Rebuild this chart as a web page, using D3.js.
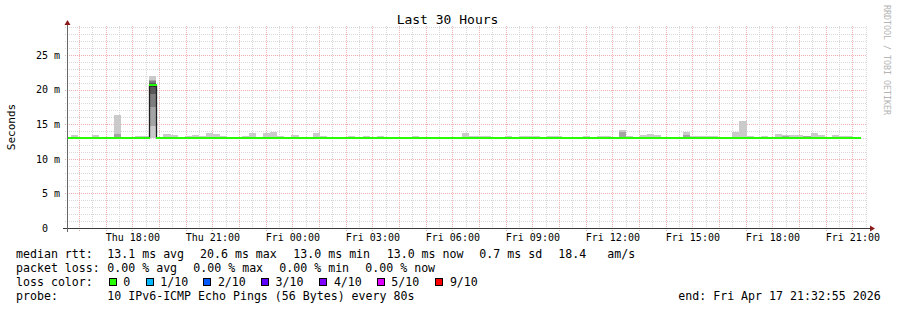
<!DOCTYPE html>
<html>
<head>
<meta charset="utf-8">
<script src="https://cdn.jsdelivr.net/npm/d3@7/dist/d3.min.js"></script>
<style>
  body { margin: 0; background: #fff; }
  svg { display: block; font-family: "DejaVu Sans Mono", monospace; }
</style>
</head>
<body>
<div id="chart"></div>
<script>
var graphStart = new Date(2026, 3, 16, 15, 32, 55),
    graphEnd = new Date(2026, 3, 17, 21, 32, 55),
    firstStep = new Date(2026, 3, 16, 15, 26, 0),  // first rrd step, partly left of the graph
    stepSeconds = 960;

// median rtt (ms), one value per 16 min step
var medianRtt = [
  13.0, 13.0, 13.0, 13.0, 13.0, 13.0, 13.0, 13.0, 13.0, 13.0, 13.0, 13.0, 20.6, 13.0, 13.0, 13.0,
  13.0, 13.0, 13.0, 13.0, 13.0, 13.0, 13.0, 13.0, 13.0, 13.0, 13.0, 13.0, 13.0, 13.0, 13.0, 13.0,
  13.0, 13.0, 13.0, 13.0, 13.0, 13.0, 13.0, 13.0, 13.0, 13.0, 13.0, 13.0, 13.0, 13.0, 13.0, 13.0,
  13.0, 13.0, 13.0, 13.0, 13.0, 13.0, 13.0, 13.0, 13.0, 13.0, 13.0, 13.0, 13.0, 13.0, 13.0, 13.0,
  13.0, 13.0, 13.0, 13.0, 13.0, 13.0, 13.0, 13.0, 13.0, 13.0, 13.0, 13.0, 13.0, 13.0, 13.0, 13.0,
  13.0, 13.0, 13.0, 13.0, 13.0, 13.0, 13.0, 13.0, 13.0, 13.0, 13.0, 13.0, 13.0, 13.0, 13.0, 13.0,
  13.0, 13.0, 13.0, 13.0, 13.0, 13.0, 13.0, 13.0, 13.0, 13.0, 13.0, 13.0, 13.0, 13.0, 13.0, 13.0
];

// steps where the 10 pings spread above the floor, and their sorted pings (ms)
var smokeStep = [1, 4, 7, 10, 11, 12, 14, 15, 17, 18, 19, 20, 21, 22, 25, 26, 28, 29, 30, 32,
  35, 36, 40, 42, 44, 49, 56, 57, 58, 59, 62, 64, 65, 66, 68, 69, 73, 75, 76, 78, 79, 81, 82, 83,
  87, 88, 89, 90, 91, 94, 95, 96, 98, 100, 101, 102, 103, 104, 105, 106, 108, 109, 110];
var smokePings = [
  [13.0, 13.0, 13.0, 13.0, 13.0, 13.0, 13.0, 13.0, 13.0, 13.46],
  [13.0, 13.0, 13.0, 13.0, 13.0, 13.0, 13.0, 13.0, 13.0, 13.46],
  [13.0, 13.0, 13.0, 13.0, 13.0, 13.0, 13.0, 13.0, 13.6, 16.4],
  [13.0, 13.0, 13.0, 13.0, 13.0, 13.0, 13.0, 13.0, 13.0, 13.3],
  [13.0, 13.0, 13.0, 13.0, 13.0, 13.0, 13.0, 13.0, 13.0, 13.3],
  [13.0, 14.8, 17.5, 19.4, 20.4, 20.8, 21.0, 21.2, 21.4, 22.0],
  [13.0, 13.0, 13.0, 13.0, 13.0, 13.0, 13.0, 13.0, 13.0, 13.6],
  [13.0, 13.0, 13.0, 13.0, 13.0, 13.0, 13.0, 13.0, 13.0, 13.46],
  [13.0, 13.0, 13.0, 13.0, 13.0, 13.0, 13.0, 13.0, 13.0, 13.3],
  [13.0, 13.0, 13.0, 13.0, 13.0, 13.0, 13.0, 13.0, 13.0, 13.46],
  [13.0, 13.0, 13.0, 13.0, 13.0, 13.0, 13.0, 13.0, 13.0, 13.3],
  [13.0, 13.0, 13.0, 13.0, 13.0, 13.0, 13.0, 13.0, 13.0, 13.75],
  [13.0, 13.0, 13.0, 13.0, 13.0, 13.0, 13.0, 13.0, 13.0, 13.6],
  [13.0, 13.0, 13.0, 13.0, 13.0, 13.0, 13.0, 13.0, 13.0, 13.3],
  [13.0, 13.0, 13.0, 13.0, 13.0, 13.0, 13.0, 13.0, 13.0, 13.3],
  [13.0, 13.0, 13.0, 13.0, 13.0, 13.0, 13.0, 13.0, 13.0, 13.75],
  [13.0, 13.0, 13.0, 13.0, 13.0, 13.0, 13.0, 13.0, 13.0, 13.75],
  [13.0, 13.0, 13.0, 13.0, 13.0, 13.0, 13.0, 13.0, 13.0, 13.9],
  [13.0, 13.0, 13.0, 13.0, 13.0, 13.0, 13.0, 13.0, 13.0, 13.3],
  [13.0, 13.0, 13.0, 13.0, 13.0, 13.0, 13.0, 13.0, 13.0, 13.46],
  [13.0, 13.0, 13.0, 13.0, 13.0, 13.0, 13.0, 13.0, 13.0, 13.75],
  [13.0, 13.0, 13.0, 13.0, 13.0, 13.0, 13.0, 13.0, 13.0, 13.3],
  [13.0, 13.0, 13.0, 13.0, 13.0, 13.0, 13.0, 13.0, 13.0, 13.3],
  [13.0, 13.0, 13.0, 13.0, 13.0, 13.0, 13.0, 13.0, 13.0, 13.3],
  [13.0, 13.0, 13.0, 13.0, 13.0, 13.0, 13.0, 13.0, 13.0, 13.3],
  [13.0, 13.0, 13.0, 13.0, 13.0, 13.0, 13.0, 13.0, 13.0, 13.3],
  [13.0, 13.0, 13.0, 13.0, 13.0, 13.0, 13.0, 13.0, 13.0, 13.75],
  [13.0, 13.0, 13.0, 13.0, 13.0, 13.0, 13.0, 13.0, 13.0, 13.3],
  [13.0, 13.0, 13.0, 13.0, 13.0, 13.0, 13.0, 13.0, 13.0, 13.3],
  [13.0, 13.0, 13.0, 13.0, 13.0, 13.0, 13.0, 13.0, 13.0, 13.3],
  [13.0, 13.0, 13.0, 13.0, 13.0, 13.0, 13.0, 13.0, 13.0, 13.3],
  [13.0, 13.0, 13.0, 13.0, 13.0, 13.0, 13.0, 13.0, 13.0, 13.3],
  [13.0, 13.0, 13.0, 13.0, 13.0, 13.0, 13.0, 13.0, 13.0, 13.3],
  [13.0, 13.0, 13.0, 13.0, 13.0, 13.0, 13.0, 13.0, 13.0, 13.3],
  [13.0, 13.0, 13.0, 13.0, 13.0, 13.0, 13.0, 13.0, 13.0, 13.3],
  [13.0, 13.0, 13.0, 13.0, 13.0, 13.0, 13.0, 13.0, 13.0, 13.3],
  [13.0, 13.0, 13.0, 13.0, 13.0, 13.0, 13.0, 13.0, 13.0, 13.3],
  [13.0, 13.0, 13.0, 13.0, 13.0, 13.0, 13.0, 13.0, 13.0, 13.3],
  [13.0, 13.0, 13.0, 13.0, 13.0, 13.0, 13.0, 13.0, 13.0, 13.3],
  [13.0, 13.0, 13.0, 13.0, 13.0, 13.0, 13.0, 13.0, 13.9, 14.2],
  [13.0, 13.0, 13.0, 13.0, 13.0, 13.0, 13.0, 13.0, 13.0, 13.3],
  [13.0, 13.0, 13.0, 13.0, 13.0, 13.0, 13.0, 13.0, 13.0, 13.46],
  [13.0, 13.0, 13.0, 13.0, 13.0, 13.0, 13.0, 13.0, 13.0, 13.6],
  [13.0, 13.0, 13.0, 13.0, 13.0, 13.0, 13.0, 13.0, 13.0, 13.46],
  [13.0, 13.0, 13.0, 13.0, 13.0, 13.0, 13.0, 13.0, 13.46, 13.9],
  [13.0, 13.0, 13.0, 13.0, 13.0, 13.0, 13.0, 13.0, 13.0, 13.3],
  [13.0, 13.0, 13.0, 13.0, 13.0, 13.0, 13.0, 13.0, 13.0, 13.3],
  [13.0, 13.0, 13.0, 13.0, 13.0, 13.0, 13.0, 13.0, 13.0, 13.3],
  [13.0, 13.0, 13.0, 13.0, 13.0, 13.0, 13.0, 13.0, 13.0, 13.3],
  [13.0, 13.0, 13.0, 13.0, 13.0, 13.0, 13.0, 13.0, 13.0, 13.9],
  [13.0, 13.0, 13.0, 13.0, 13.0, 13.0, 13.0, 13.0, 13.0, 15.5],
  [13.0, 13.0, 13.0, 13.0, 13.0, 13.0, 13.0, 13.0, 13.0, 13.3],
  [13.0, 13.0, 13.0, 13.0, 13.0, 13.0, 13.0, 13.0, 13.0, 13.3],
  [13.0, 13.0, 13.0, 13.0, 13.0, 13.0, 13.0, 13.0, 13.0, 13.6],
  [13.0, 13.0, 13.0, 13.0, 13.0, 13.0, 13.0, 13.0, 13.3, 13.46],
  [13.0, 13.0, 13.0, 13.0, 13.0, 13.0, 13.0, 13.0, 13.0, 13.46],
  [13.0, 13.0, 13.0, 13.0, 13.0, 13.0, 13.0, 13.0, 13.0, 13.46],
  [13.0, 13.0, 13.0, 13.0, 13.0, 13.0, 13.0, 13.0, 13.3, 13.3],
  [13.0, 13.0, 13.0, 13.0, 13.0, 13.0, 13.0, 13.0, 13.0, 13.75],
  [13.0, 13.0, 13.0, 13.0, 13.0, 13.0, 13.0, 13.0, 13.0, 13.46],
  [13.0, 13.0, 13.0, 13.0, 13.0, 13.0, 13.0, 13.0, 13.0, 13.46],
  [13.0, 13.0, 13.0, 13.0, 13.0, 13.0, 13.0, 13.0, 13.0, 13.3],
  [13.0, 13.0, 13.0, 13.0, 13.0, 13.0, 13.0, 13.0, 13.0, 13.3]
];

var rttStats = [13.1, 20.6, 13.0, 13.0],
    rttStatNames = ["avg", "max", "min", "now"],
    rttSd = 0.7,
    rttAms = 18.4,
    lossStats = [0, 0, 0, 0];

var lossLabels = ["0", "1/10", "2/10", "3/10", "4/10", "5/10", "9/10"],
    lossColors = ["#26ff00", "#00b8ff", "#0059ff", "#5e00ff", "#7e00ff", "#dd00ff", "#ff0000"];

var yTicks = [0, 5, 10, 15, 20, 25];

var width = 897, height = 310,
    plot = {left: 67, right: 867, top: 26, bottom: 228};

var svg = d3.select("#chart").append("svg")
  .attr("width", width)
  .attr("height", height);

var x = d3.scaleTime().domain([graphStart, graphEnd]).range([plot.left, plot.right]);
var y = d3.scaleLinear().domain([0, 29.2]).range([plot.bottom, plot.top]);

function stepTime(j) { return new Date(firstStep.getTime() + j * stepSeconds * 1000); }

svg.append("defs").append("clipPath").attr("id", "plotclip")
  .append("rect")
  .attr("x", plot.left).attr("y", plot.top)
  .attr("width", plot.right - plot.left).attr("height", plot.bottom - plot.top);

// grid (under the data)
var minorGrid = "#d9d9d9", majorGrid = "#f1b0b0";
var gridG = svg.append("g").attr("shape-rendering", "crispEdges");
d3.range(1, 30).forEach(function (v) {
  gridG.append("line")
    .attr("x1", plot.left - 2).attr("x2", plot.right)
    .attr("y1", Math.round(y(v)) + 0.5).attr("y2", Math.round(y(v)) + 0.5)
    .attr("stroke", v % 5 == 0 ? majorGrid : minorGrid)
    .attr("stroke-dasharray", "1,1");
});
d3.timeMinute.every(30).range(graphStart, graphEnd).forEach(function (t) {
  var major = t.getMinutes() == 0;
  gridG.append("line")
    .attr("x1", Math.round(x(t)) + 0.5).attr("x2", Math.round(x(t)) + 0.5)
    .attr("y1", plot.top).attr("y2", plot.bottom + (major ? 3 : 0))
    .attr("stroke", major ? majorGrid : minorGrid)
    .attr("stroke-dasharray", "1,1");
});

var canvas = svg.append("g").attr("clip-path", "url(#plotclip)");

// smoke: ping i to ping 11-i, lighter outside, darker inside
var half = 5;
smokeStep.forEach(function (j, n) {
  var p = smokePings[n];
  for (var i = 1; i <= half; i++) {
    var c = Math.floor(190 / half * (half - i)) + 50;
    var lo = p[i - 1], hi = p[p.length - i];
    if (hi <= lo) continue;
    canvas.append("rect")
      .attr("x", x(stepTime(j)))
      .attr("width", x(stepTime(j + 1)) - x(stepTime(j)))
      .attr("y", y(hi))
      .attr("height", y(lo) - y(hi))
      .attr("fill", d3.rgb(c, c, c))
      .attr("shape-rendering", "crispEdges");
  }
});

// median line and loss colour band
var stepPts = medianRtt.map(function (m, j) { return [stepTime(j), m]; });
stepPts.push([stepTime(medianRtt.length), medianRtt[medianRtt.length - 1]]);
canvas.append("path")
  .datum(stepPts)
  .attr("d", d3.line().curve(d3.curveStepAfter)
    .x(function (d) { return Math.round(x(d[0])) + 0.5; })
    .y(function (d) { return y(d[1]); }))
  .attr("fill", "none")
  .attr("stroke", "#202020")
  .attr("stroke-width", 1.3);

canvas.selectAll("rect.loss")
  .data(medianRtt)
  .enter().append("rect")
    .attr("class", "loss")
    .attr("x", function (d, j) { return x(stepTime(j)); })
    .attr("width", function (d, j) { return x(stepTime(j + 1)) - x(stepTime(j)) + 0.3; })
    .attr("y", function (d) { return y(d) - 1; })
    .attr("height", 2)
    .attr("fill", lossColors[0])
    .attr("shape-rendering", "crispEdges");

// axes
var axisColor = "#3a3a3a", arrowColor = "#8b1a1a";
svg.append("line")
  .attr("x1", plot.left - 4).attr("x2", plot.right + 4)
  .attr("y1", plot.bottom + 0.5).attr("y2", plot.bottom + 0.5)
  .attr("stroke", axisColor);
svg.append("line")
  .attr("x1", plot.left + 0.5).attr("x2", plot.left + 0.5)
  .attr("y1", plot.bottom + 4).attr("y2", plot.top - 3)
  .attr("stroke", "#666");
svg.append("path")
  .attr("d", "M" + (plot.right + 3) + "," + (plot.bottom - 2.5) + "L" + (plot.right + 8) + "," + (plot.bottom + 0.5) + "L" + (plot.right + 3) + "," + (plot.bottom + 3.5) + "Z")
  .attr("fill", arrowColor);
svg.append("path")
  .attr("d", "M" + (plot.left - 2.5) + "," + (plot.top - 1) + "L" + (plot.left + 0.5) + "," + (plot.top - 6) + "L" + (plot.left + 3.5) + "," + (plot.top - 1) + "Z")
  .attr("fill", arrowColor);

// y tick labels
svg.selectAll("text.ytick")
  .data(yTicks)
  .enter().append("text")
    .attr("class", "ytick")
    .attr("x", function (d) { return d == 0 ? 48 : 60; })
    .attr("y", function (d) { return y(d) + 3.8; })
    .attr("text-anchor", "end")
    .style("font-size", "10px")
    .text(function (d) { return d == 0 ? "0" : d + " m"; });

// x tick labels
var fmt = d3.timeFormat("%a %H:%M");
svg.selectAll("text.xtick")
  .data(d3.timeHour.every(3).range(graphStart, graphEnd))
  .enter().append("text")
    .attr("class", "xtick")
    .attr("x", function (d) { return x(d) + 0.5; })
    .attr("y", 241)
    .attr("text-anchor", "middle")
    .style("font-size", "10px")
    .text(function (d) { return fmt(d); });

// title, axis label, watermark
svg.append("text")
  .attr("x", 447.5).attr("y", 24)
  .attr("text-anchor", "middle")
  .style("font-size", "13px")
  .text("Last 30 Hours");

svg.append("text")
  .attr("transform", "translate(15,127) rotate(-90)")
  .attr("text-anchor", "middle")
  .style("font-size", "11px")
  .text("Seconds");

svg.append("text")
  .attr("transform", "translate(884,5) rotate(90)")
  .attr("fill", "#b4b4b4")
  .style("font-size", "8.3px")
  .text("RRDTOOL / TOBI OETIKER");

// legend
var legendFont = "11.6px";
function legendText(tx, ty, s) {
  return svg.append("text")
    .attr("x", tx).attr("y", ty)
    .style("font-size", legendFont)
    .attr("xml:space", "preserve")
    .text(s);
}

legendText(16, 258, "median rtt:");
[107.3, 200, 293.3, 386.7].forEach(function (px, i) {
  legendText(px, 258, d3.format(".1f")(rttStats[i]) + " ms " + rttStatNames[i]);
});
legendText(479.3, 258, d3.format(".1f")(rttSd) + " ms sd");
legendText(558.3, 258, d3.format(".1f")(rttAms));
legendText(607.3, 258, "am/s");

legendText(16, 272, "packet loss:");
[107.3, 193.3, 279.3, 365.3].forEach(function (px, i) {
  legendText(px, 272, d3.format(".2f")(lossStats[i]) + " % " + rttStatNames[i]);
});

legendText(16, 286, "loss color:");
var swatchX = [108.7, 145.7, 203.3, 261, 319.3, 376.7, 435.3];
lossLabels.forEach(function (lab, i) {
  svg.append("rect")
    .attr("x", Math.round(swatchX[i]) + 0.5).attr("y", 278.5)
    .attr("width", 7).attr("height", 7)
    .attr("fill", lossColors[i])
    .attr("stroke", "#000");
  legendText(swatchX[i] + 14.6, 286, lab);
});

legendText(16, 300, "probe:");
legendText(107.3, 300, "10 IPv6-ICMP Echo Pings (56 Bytes) every 80s");
legendText(678.3, 300, "end: Fri Apr 17 21:32:55 2026");
</script>
</body>
</html>
